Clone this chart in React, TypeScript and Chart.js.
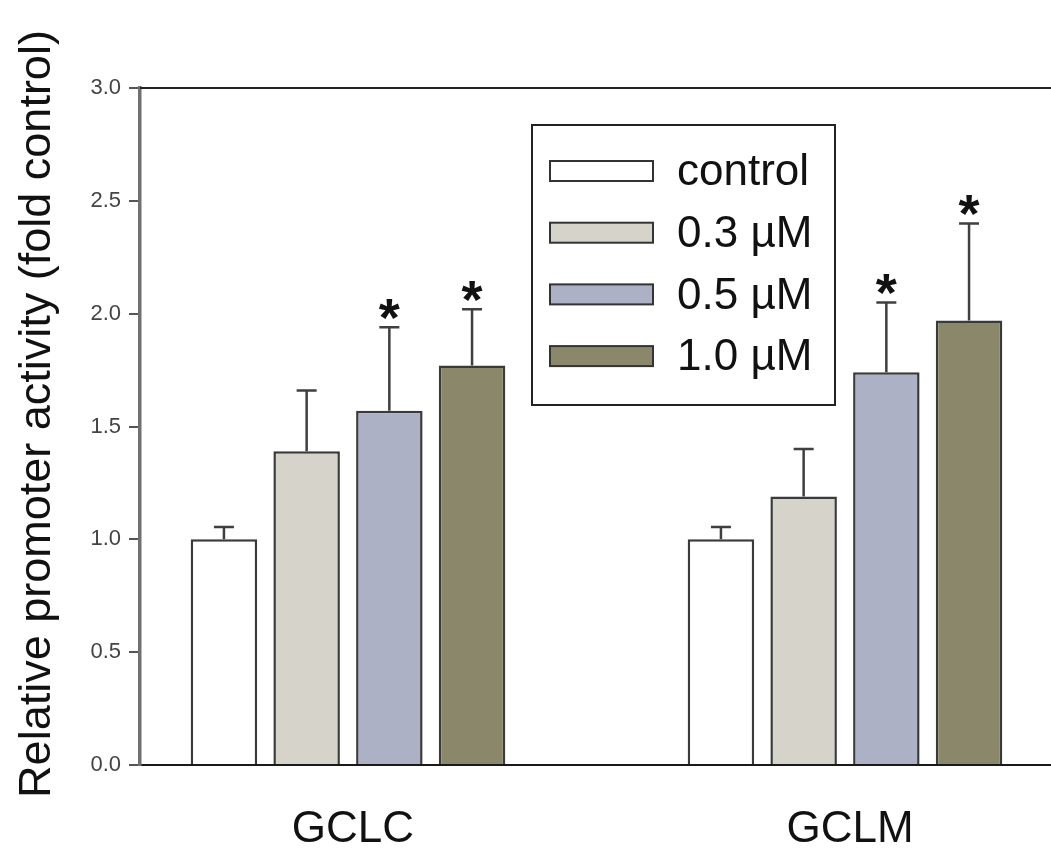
import React, { useEffect, useRef } from 'react';
import { Chart, registerables } from 'chart.js';

Chart.register(...registerables);

const categories = ['GCLC', 'GCLM'];
const seriesLabels = ['control', '0.3 µM', '0.5 µM', '1.0 µM'];
const controlValues = [1.0, 1.0];
const dose03Values = [1.39, 1.19];
const dose05Values = [1.57, 1.74];
const dose10Values = [1.77, 1.97];
const controlErrors = [0.055, 0.055];
const dose03Errors = [0.27, 0.21];
const dose05Errors = [0.37, 0.31];
const dose10Errors = [0.25, 0.43];
const controlSig = [false, false];
const dose03Sig = [false, false];
const dose05Sig = [true, true];
const dose10Sig = [true, true];
const yTickValues = [0, 0.5, 1.0, 1.5, 2.0, 2.5, 3.0];
const yTitle = 'Relative promoter activity (fold control)';

const seriesValues = [controlValues, dose03Values, dose05Values, dose10Values];
const seriesErrors = [controlErrors, dose03Errors, dose05Errors, dose10Errors];
const seriesSig = [controlSig, dose03Sig, dose05Sig, dose10Sig];
const seriesColors = ['#ffffff', '#d6d4ca', '#adb1c6', '#8b876b'];

const FONT = '"Liberation Sans", Arial, sans-serif';

const errorBarPlugin = {
  id: 'errorBars',
  afterDatasetsDraw(chart: any) {
    const ctx = chart.ctx;
    const yScale = chart.scales.y;
    ctx.save();
    chart.data.datasets.forEach((ds: any, i: number) => {
      const meta = chart.getDatasetMeta(i);
      meta.data.forEach((bar: any, j: number) => {
        const v = seriesValues[i][j];
        const e = seriesErrors[i][j];
        const yTop = yScale.getPixelForValue(v + e);
        const yBar = yScale.getPixelForValue(v);
        ctx.strokeStyle = '#3f3f3f';
        ctx.lineWidth = 2.5;
        ctx.beginPath();
        ctx.moveTo(bar.x, yBar);
        ctx.lineTo(bar.x, yTop);
        ctx.moveTo(bar.x - 10, yTop);
        ctx.lineTo(bar.x + 10, yTop);
        ctx.stroke();
        if (seriesSig[i][j]) {
          ctx.fillStyle = '#111';
          ctx.font = 'bold 54px ' + FONT;
          ctx.textAlign = 'center';
          ctx.textBaseline = 'alphabetic';
          ctx.fillText('*', bar.x, yTop + 9);
        }
      });
    });
    ctx.restore();
  },
};

const framePlugin = {
  id: 'frame',
  afterDraw(chart: any) {
    const ctx = chart.ctx;
    const a = chart.chartArea;
    ctx.save();
    ctx.strokeStyle = '#222';
    ctx.lineWidth = 2;
    ctx.beginPath();
    ctx.moveTo(a.left, a.top);
    ctx.lineTo(a.right, a.top);
    ctx.stroke();

    // y axis title
    ctx.save();
    ctx.translate(38, 414);
    ctx.rotate(-Math.PI / 2);
    ctx.fillStyle = '#111';
    ctx.font = '45px ' + FONT;
    ctx.textAlign = 'center';
    ctx.textBaseline = 'middle';
    ctx.fillText(yTitle, 0, 0);
    ctx.restore();

    // legend box
    const bx = 532, by = 125, bw = 303, bh = 280;
    ctx.fillStyle = '#ffffff';
    ctx.fillRect(bx, by, bw, bh);
    ctx.strokeStyle = '#222';
    ctx.lineWidth = 2;
    ctx.strokeRect(bx, by, bw, bh);
    seriesLabels.forEach((label, i) => {
      const cy = 171 + i * 61.7;
      ctx.fillStyle = seriesColors[i];
      ctx.fillRect(550, cy - 10, 103, 20);
      ctx.strokeStyle = '#333';
      ctx.lineWidth = 2;
      ctx.strokeRect(550, cy - 10, 103, 20);
      ctx.fillStyle = '#111';
      ctx.font = '44px ' + FONT;
      ctx.textAlign = 'left';
      ctx.textBaseline = 'middle';
      ctx.fillText(label, 677, cy + 2);
    });
    ctx.restore();
  },
};

export default function App() {
  const ref = useRef<HTMLCanvasElement>(null);
  useEffect(() => {
    if (!ref.current) return;
    const chart = new Chart(ref.current, {
      type: 'bar',
      data: {
        datasets: seriesLabels.map((label, i) => ({
          label,
          data: categories.map((_, j) => ({ x: j, y: seriesValues[i][j] })),
          backgroundColor: seriesColors[i],
          borderColor: '#3a3a3a',
          borderWidth: 2.5,
          borderSkipped: 'start',
          categoryPercentage: 0.6656,
          barPercentage: 0.804,
        })),
      },
      options: {
        animation: false,
        responsive: false,
        maintainAspectRatio: false,
        layout: { padding: { top: 88, right: 0, left: 0, bottom: 0 } },
        plugins: { legend: { display: false }, tooltip: { enabled: false } },
        scales: {
          x: {
            type: 'linear',
            offset: false,
            min: -0.4185,
            max: 1.4145,
            afterBuildTicks: (s: any) => {
              s.ticks = categories.map((_, i) => ({ value: i }));
            },
            afterFit: (s: any) => {
              s.height = 86;
            },
            ticks: {
              callback: (v: any) => categories[v] ?? '',
              font: { size: 44, family: FONT },
              color: '#111',
              padding: 38,
              labelOffset: 5,
              maxRotation: 0,
              autoSkip: false,
            },
            grid: { display: true, offset: false, drawOnChartArea: false, drawTicks: false, color: 'rgba(0,0,0,0)' },
            border: { display: true, color: '#1a1a1a', width: 2 },
          },
          y: {
            type: 'linear',
            min: 0,
            max: 3,
            afterBuildTicks: (s: any) => {
              s.ticks = yTickValues.map((v) => ({ value: v }));
            },
            afterFit: (s: any) => {
              s.width = 140;
            },
            ticks: {
              callback: (v: any) => Number(v).toFixed(1),
              font: { size: 22, family: FONT },
              color: '#444',
              padding: 8,
            },
            grid: { display: true, drawOnChartArea: false, drawTicks: true, tickLength: 11, color: '#555', lineWidth: 2 },
            border: { display: true, color: '#707070', width: 3.5 },
          },
        },
      },
      plugins: [errorBarPlugin, framePlugin],
    } as any);
    return () => chart.destroy();
  }, []);
  return (
    <div style={{ position: 'fixed', left: 0, top: 0, width: 1051, height: 851, background: '#fff' }}>
      <canvas ref={ref} width={1051} height={851} style={{ width: 1051, height: 851 }} />
    </div>
  );
}
